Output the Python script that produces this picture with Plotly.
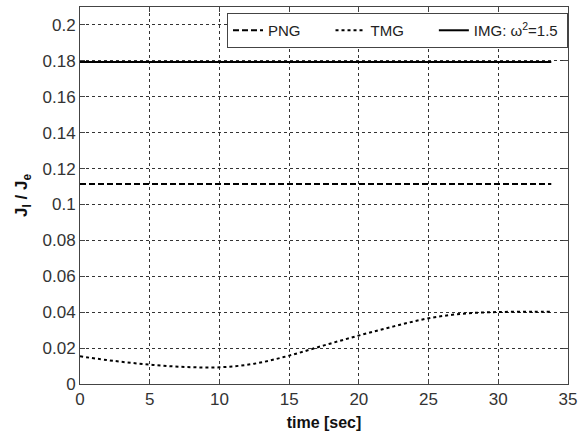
import plotly.graph_objects as go

# time samples [sec]
t = [0, 2.5, 5, 7.5, 10, 12.5, 15, 17.5, 20, 22.5, 25, 27.5, 30, 32.5, 33.8]

# cost ratio J_I / J_e for each guidance law
png = [0.1114] * len(t)
img = [0.1794] * len(t)
tmg = [0.0154, 0.0128, 0.0108, 0.0095, 0.0093, 0.0113, 0.0158, 0.0215,
       0.0270, 0.0321, 0.0366, 0.0392, 0.0401, 0.0402, 0.0402]

x_ticks = [0, 5, 10, 15, 20, 25, 30, 35]
y_ticks = [0, 0.02, 0.04, 0.06, 0.08, 0.1, 0.12, 0.14, 0.16, 0.18, 0.2]
y_tick_text = ["0", "0.02", "0.04", "0.06", "0.08", "0.1", "0.12", "0.14",
               "0.16", "0.18", "0.2"]

font_family = "Liberation Sans, Arial, sans-serif"
nb = "\u00a0"

fig = go.Figure()
fig.add_trace(go.Scatter(x=t, y=png, mode="lines", name="PNG" + nb * 6,
                         line=dict(color="black", width=2, dash="6px,3px")))
fig.add_trace(go.Scatter(x=t, y=tmg, mode="lines", name="TMG" + nb * 6,
                         line=dict(color="black", width=2, dash="dot",
                                   shape="spline", smoothing=1.0)))
fig.add_trace(go.Scatter(x=t, y=img, mode="lines",
                         name="IMG: \u03c9<sup>2</sup>=1.5" + nb,
                         line=dict(color="black", width=2)))

axis_common = dict(
    showline=True, linecolor="#444", linewidth=1, mirror="ticks",
    ticks="inside", ticklen=5, tickcolor="#444",
    showgrid=True, gridcolor="#333", gridwidth=1, griddash="3px,3px",
    zeroline=False,
    tickfont=dict(family=font_family, size=17, color="#333"),
)

fig.update_xaxes(range=[0, 35], tickvals=x_ticks,
                 title=dict(text="<b>time [sec]</b>", standoff=9,
                            font=dict(family=font_family, size=16, color="#111")),
                 **axis_common)
fig.update_yaxes(range=[0, 0.21], tickvals=y_ticks, ticktext=y_tick_text,
                 title=dict(text="<b>J<sub>I</sub> / J<sub>e</sub></b>", standoff=10,
                            font=dict(family=font_family, size=17, color="#111")),
                 **axis_common)

fig.update_layout(
    width=578, height=431,
    margin=dict(l=80, r=10, t=7, b=47, autoexpand=False),
    paper_bgcolor="white", plot_bgcolor="white",
    font=dict(family=font_family, size=15, color="#222"),
    legend=dict(orientation="h", x=1.0, xanchor="right", y=0.984, yanchor="top",
                bgcolor="white", bordercolor="#444", borderwidth=1,
                font=dict(family=font_family, size=15, color="#222"),
                tracegroupgap=0),
    showlegend=True,
)

fig.write_html("out.html")
